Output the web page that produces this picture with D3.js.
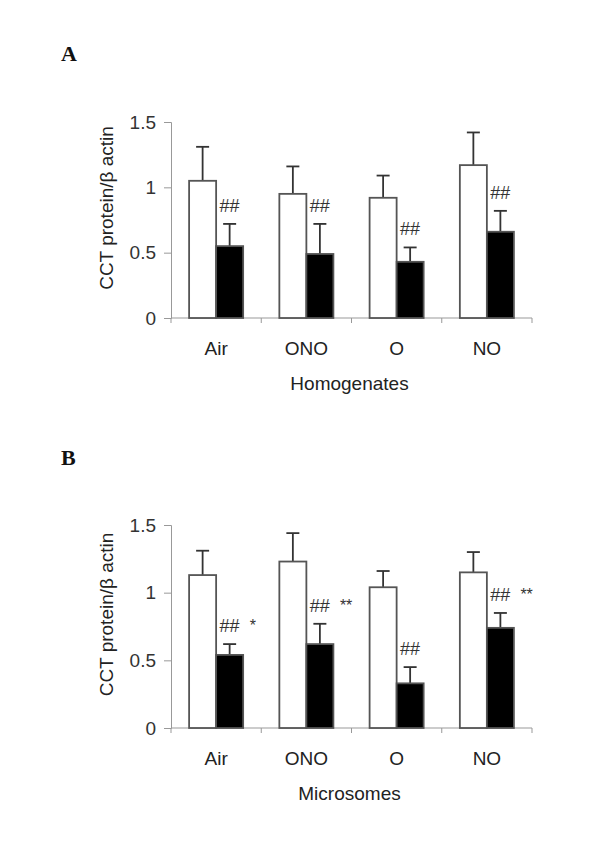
<!DOCTYPE html>
<html>
<head>
<meta charset="utf-8">
<script src="https://cdnjs.cloudflare.com/ajax/libs/d3/7.8.5/d3.min.js"></script>
<style>
  body { margin: 0; background: #fff; }
</style>
</head>
<body>
<svg id="chart" width="600" height="863"></svg>
<script>
const categories = ["Air", "ONO", "O", "NO"];
const yTicks = [0, 0.5, 1, 1.5];

// panel A: homogenates
const homogControl = [1.05, 0.95, 0.92, 1.17];
const homogControlErr = [0.26, 0.21, 0.17, 0.25];
const homogTreated = [0.55, 0.49, 0.43, 0.66];
const homogTreatedErr = [0.17, 0.23, 0.11, 0.16];
const homogHash = ["##", "##", "##", "##"];
const homogStars = ["", "", "", ""];

// panel B: microsomes
const microControl = [1.13, 1.23, 1.04, 1.15];
const microControlErr = [0.18, 0.21, 0.12, 0.15];
const microTreated = [0.54, 0.62, 0.33, 0.74];
const microTreatedErr = [0.08, 0.15, 0.12, 0.11];
const microHash = ["##", "##", "##", "##"];
const microStars = ["*", "**", "", "**"];

const sans = "'Liberation Sans', Arial, sans-serif";
const serif = "'Liberation Serif', 'Times New Roman', serif";

const svg = d3.select("#chart");

const panels = [
  { letter: "A", title: "Homogenates", top: 122, bottom: 318, letterY: 61,
    control: homogControl, controlErr: homogControlErr,
    treated: homogTreated, treatedErr: homogTreatedErr,
    hash: homogHash, stars: homogStars },
  { letter: "B", title: "Microsomes", top: 525, bottom: 728, letterY: 465,
    control: microControl, controlErr: microControlErr,
    treated: microTreated, treatedErr: microTreatedErr,
    hash: microHash, stars: microStars }
];

const left = 171, right = 532;

panels.forEach((p) => {
  const g = svg.append("g");

  const x0 = d3.scaleBand().domain(categories).range([left, right]).padding(0);
  const x1 = d3.scaleBand().domain(["control", "treated"])
    .range([0, x0.bandwidth()]).paddingInner(0).paddingOuter(0.67);
  const y = d3.scaleLinear().domain([0, 1.5]).range([p.bottom, p.top]);

  // panel letter
  g.append("text")
    .attr("x", 61).attr("y", p.letterY)
    .style("font-family", serif)
    .style("font-weight", "bold")
    .style("font-size", "22px")
    .attr("fill", "#111")
    .text(p.letter);

  // y axis
  const yAxis = g.append("g")
    .attr("transform", `translate(${left},0)`)
    .call(d3.axisLeft(y).tickValues(yTicks).tickFormat(d3.format("")).tickSize(7).tickPadding(8));
  yAxis.select(".domain").attr("stroke", "#999");
  yAxis.selectAll(".tick line").attr("stroke", "#999");
  yAxis.selectAll(".tick text")
    .style("font-size", "19px").attr("fill", "#333")
    .style("font-family", sans);

  // x axis: line with ticks at category boundaries
  g.append("line")
    .attr("x1", left).attr("x2", right)
    .attr("y1", p.bottom).attr("y2", p.bottom)
    .attr("stroke", "#999");
  const bounds = categories.map((c) => x0(c)).concat([right]);
  g.selectAll(".xtick").data(bounds).enter().append("line")
    .attr("x1", (d) => d).attr("x2", (d) => d)
    .attr("y1", p.bottom).attr("y2", p.bottom + 5)
    .attr("stroke", "#999");

  g.selectAll(".xlabel").data(categories).enter().append("text")
    .attr("x", (d) => x0(d) + x0.bandwidth() / 2)
    .attr("y", p.bottom + 37)
    .attr("text-anchor", "middle")
    .style("font-family", sans).style("font-size", "19px").attr("fill", "#222")
    .text((d) => d);

  g.append("text")
    .attr("x", (left + right) / 2 - 2)
    .attr("y", p.bottom + 72)
    .attr("text-anchor", "middle")
    .style("font-family", sans).style("font-size", "19px").attr("fill", "#222")
    .text(p.title);

  // y axis title
  g.append("text")
    .attr("transform", `translate(113,${(p.top + p.bottom) / 2 - 12}) rotate(-90)`)
    .attr("text-anchor", "middle")
    .style("font-family", sans).style("font-size", "19px").attr("fill", "#222")
    .text("CCT protein/β actin");

  const rows = categories.map((c, i) => [
    { cat: c, key: "control", v: p.control[i], e: p.controlErr[i] },
    { cat: c, key: "treated", v: p.treated[i], e: p.treatedErr[i] }
  ]).flat();

  // error bars (drawn first so bar covers lower part)
  const cap = 6.5;
  rows.forEach((d) => {
    const cx = x0(d.cat) + x1(d.key) + x1.bandwidth() / 2;
    g.append("line")
      .attr("x1", cx).attr("x2", cx)
      .attr("y1", y(d.v)).attr("y2", y(d.v + d.e))
      .attr("stroke", "#333").attr("stroke-width", 1.8);
    g.append("line")
      .attr("x1", cx - cap).attr("x2", cx + cap)
      .attr("y1", y(d.v + d.e)).attr("y2", y(d.v + d.e))
      .attr("stroke", "#333").attr("stroke-width", 1.8);
  });

  g.selectAll(".bar").data(rows).enter().append("rect")
    .attr("x", (d) => x0(d.cat) + x1(d.key))
    .attr("y", (d) => y(d.v))
    .attr("width", x1.bandwidth())
    .attr("height", (d) => p.bottom - y(d.v))
    .attr("fill", (d) => d.key === "control" ? "#fff" : "#000")
    .attr("stroke", "#555")
    .attr("stroke-width", 1.8);

  // significance marks over treated bars
  categories.forEach((c, i) => {
    const cx = x0(c) + x1("treated") + x1.bandwidth() / 2;
    const ty = y(p.treated[i] + p.treatedErr[i]) - 12;
    g.append("text")
      .attr("x", cx).attr("y", ty)
      .attr("text-anchor", "middle")
      .style("font-family", sans).style("font-size", "18px").attr("fill", "#333")
      .text(p.hash[i]);
    if (p.stars[i]) {
      g.append("text")
        .attr("x", cx + 20).attr("y", ty - 1)
        .style("font-family", sans).style("font-size", "16px").attr("fill", "#333")
        .text(p.stars[i]);
    }
  });
});
</script>
</body>
</html>
